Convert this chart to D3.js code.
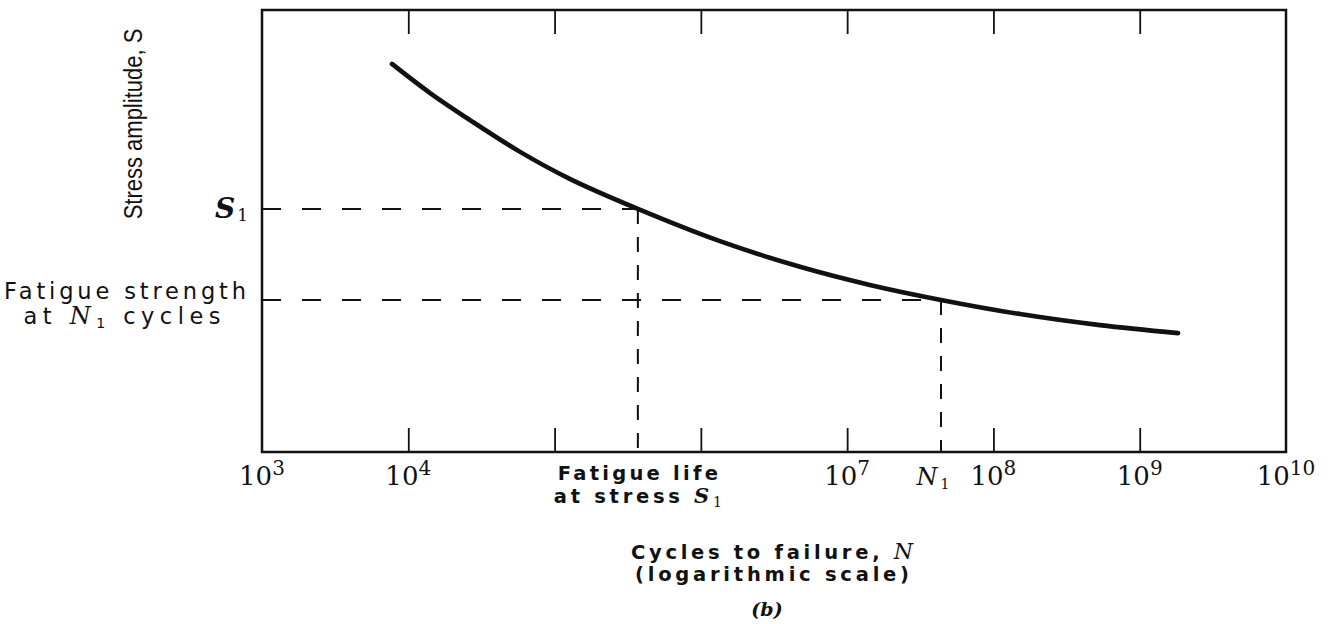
<!DOCTYPE html>
<html>
<head>
<meta charset="utf-8">
<script src="https://cdn.jsdelivr.net/npm/d3@7"></script>
<style>
  html, body { margin: 0; padding: 0; background: #fff; }
  svg { display: block; }
</style>
</head>
<body>
<svg id="chart" width="1335" height="624"></svg>
<script>
// ---- data ----
const tickExponents = [4, 5, 6, 7, 8, 9];          // tick marks (top and bottom)
const labelExponents = [3, 4, 7, 8, 9, 10];        // labelled decades
const curveN = [7.74e3, 1.41e4, 2.64e4, 5.81e4, 1.27e5, 3.71e5, 1.35e6, 4.76e6, 1.43e7, 4.38e7, 1.52e8, 5.35e8, 1.83e9];
const curveS = [87.8, 81.2, 75.1, 67.9, 61.8, 55.0, 47.7, 41.9, 37.8, 34.4, 31.2, 28.7, 26.9];
const fatigueLifeN = 3.71e5;   // N at stress S1
const stressS1 = 55.0;
const cyclesN1 = 4.38e7;       // N1
const fatigueStrengthN1 = 34.4;
const xDomain = [1e3, 1e10];
const yDomain = [0, 100];

// ---- layout ----
const svg = d3.select("#chart");
const pLeft = 262, pRight = 1286, pTop = 10, pBottom = 452;
const ink = "#111";
const sans = "'DejaVu Sans', Verdana, sans-serif";
const serif = "'DejaVu Serif', serif";

const x = d3.scaleLog().domain(xDomain).range([pLeft, pRight]);
const y = d3.scaleLinear().domain(yDomain).range([pBottom, pTop]);

// frame
svg.append("rect")
  .attr("x", pLeft).attr("y", pTop)
  .attr("width", pRight - pLeft).attr("height", pBottom - pTop)
  .attr("fill", "none").attr("stroke", ink).attr("stroke-width", 2.5);

// ticks (top and bottom, inward)
const tickVals = tickExponents.map(e => Math.pow(10, e));
const bottomAxis = d3.axisBottom(x).tickValues(tickVals).tickSizeInner(-24).tickSizeOuter(0).tickFormat("");
const topAxis = d3.axisTop(x).tickValues(tickVals).tickSizeInner(-24).tickSizeOuter(0).tickFormat("");
const gb = svg.append("g").attr("transform", `translate(0,${pBottom})`).call(bottomAxis);
const gt = svg.append("g").attr("transform", `translate(0,${pTop})`).call(topAxis);
[gb, gt].forEach(g => {
  g.select(".domain").remove();
  g.selectAll(".tick line").attr("stroke", ink).attr("stroke-width", 1.8);
});

// tick labels 10^n
const lab = svg.append("g").attr("font-family", serif).attr("fill", ink);
labelExponents.forEach(e => {
  const t = lab.append("text")
    .attr("x", x(Math.pow(10, e)))
    .attr("y", 485)
    .attr("text-anchor", "middle")
    .attr("font-size", 26);
  t.append("tspan").text("10");
  t.append("tspan").attr("dy", -10).attr("font-size", 20).text(String(e));
});

// dashed reference lines
const dashH = "19,21", dashV = "15,13";
const dash = svg.append("g").attr("stroke", ink).attr("stroke-width", 2).attr("fill", "none");
dash.append("line").attr("x1", pLeft).attr("x2", x(fatigueLifeN)).attr("y1", y(stressS1)).attr("y2", y(stressS1)).attr("stroke-dasharray", dashH);
dash.append("line").attr("x1", x(fatigueLifeN)).attr("x2", x(fatigueLifeN)).attr("y1", y(stressS1)).attr("y2", pBottom).attr("stroke-dasharray", dashV);
dash.append("line").attr("x1", pLeft).attr("x2", x(cyclesN1)).attr("y1", y(fatigueStrengthN1)).attr("y2", y(fatigueStrengthN1)).attr("stroke-dasharray", dashH);
dash.append("line").attr("x1", x(cyclesN1)).attr("x2", x(cyclesN1)).attr("y1", y(fatigueStrengthN1)).attr("y2", pBottom).attr("stroke-dasharray", dashV);

// S-N curve
const pts = curveN.map((n, i) => [n, curveS[i]]);
svg.append("path")
  .datum(pts)
  .attr("d", d3.line().x(d => x(d[0])).y(d => y(d[1])).curve(d3.curveCatmullRom.alpha(0.5)))
  .attr("fill", "none").attr("stroke", ink).attr("stroke-width", 4.6).attr("stroke-linecap", "round");

// y-axis title (condensed via horizontal scale along the text direction)
svg.append("text")
  .attr("transform", "translate(142,124) rotate(-90) scale(0.88,1)")
  .attr("text-anchor", "middle")
  .attr("font-family", "'Liberation Sans', Arial, sans-serif")
  .attr("font-size", 25)
  .attr("fill", ink)
  .text("Stress amplitude, S");

// S1 label
const s1 = svg.append("text")
  .attr("x", 248).attr("y", y(stressS1) + 9)
  .attr("text-anchor", "end")
  .attr("font-family", serif)
  .attr("fill", ink);
s1.append("tspan").attr("font-size", 28).attr("font-style", "italic").attr("font-weight", "bold").text("S");
s1.append("tspan").attr("font-size", 17).attr("dy", 3).attr("dx", 2).text("1");

// Fatigue strength label
svg.append("text")
  .attr("x", 125).attr("y", 299)
  .attr("text-anchor", "middle")
  .attr("font-family", sans).attr("font-size", 22.5)
  .attr("textLength", 242).attr("lengthAdjust", "spacing")
  .attr("fill", ink)
  .text("Fatigue strength");
const fs2 = svg.append("text")
  .attr("x", 122).attr("y", 324)
  .attr("text-anchor", "middle")
  .attr("font-family", sans).attr("font-size", 22.5)
  .attr("textLength", 197).attr("lengthAdjust", "spacing")
  .attr("fill", ink);
fs2.append("tspan").text("at ");
fs2.append("tspan").attr("font-family", serif).attr("font-style", "italic").attr("font-size", 24).text("N");
fs2.append("tspan").attr("font-size", 14).attr("dy", 4).text("1");
fs2.append("tspan").attr("dy", -4).text(" cycles");

// Fatigue life label (bottom)
svg.append("text")
  .attr("x", x(fatigueLifeN)).attr("y", 480)
  .attr("text-anchor", "middle")
  .attr("font-family", sans).attr("font-size", 19.5).attr("font-weight", "bold")
  .attr("textLength", 160).attr("lengthAdjust", "spacing")
  .attr("fill", ink)
  .text("Fatigue life");
const fl2 = svg.append("text")
  .attr("x", x(fatigueLifeN)).attr("y", 503)
  .attr("text-anchor", "middle")
  .attr("font-family", sans).attr("font-size", 19.5).attr("font-weight", "bold")
  .attr("textLength", 168).attr("lengthAdjust", "spacing")
  .attr("fill", ink);
fl2.append("tspan").text("at stress ");
fl2.append("tspan").attr("font-family", serif).attr("font-style", "italic").attr("font-size", 21).text("S");
fl2.append("tspan").attr("font-family", serif).attr("font-weight", "normal").attr("font-size", 14).attr("dy", 4).text("1");

// N1 label
const n1 = svg.append("text")
  .attr("x", x(cyclesN1) - 8).attr("y", 485)
  .attr("text-anchor", "middle")
  .attr("font-family", serif)
  .attr("fill", ink);
n1.append("tspan").attr("font-size", 24).attr("font-style", "italic").text("N");
n1.append("tspan").attr("font-size", 14).attr("dy", 4).attr("dx", 3).text("1");

// x-axis title
const xt1 = svg.append("text")
  .attr("x", 772).attr("y", 559)
  .attr("text-anchor", "middle")
  .attr("font-family", sans).attr("font-size", 19.5).attr("font-weight", "bold")
  .attr("textLength", 282).attr("lengthAdjust", "spacing")
  .attr("fill", ink);
xt1.append("tspan").text("Cycles to failure, ");
xt1.append("tspan").attr("font-family", serif).attr("font-style", "italic").attr("font-weight", "normal").attr("font-size", 22).text("N");
svg.append("text")
  .attr("x", 772).attr("y", 581)
  .attr("text-anchor", "middle")
  .attr("font-family", sans).attr("font-size", 19.5).attr("font-weight", "bold")
  .attr("textLength", 274).attr("lengthAdjust", "spacing")
  .attr("fill", ink)
  .text("(logarithmic scale)");

// panel label
svg.append("text")
  .attr("x", 767).attr("y", 616)
  .attr("text-anchor", "middle")
  .attr("font-family", serif).attr("font-size", 19)
  .attr("font-style", "italic").attr("font-weight", "bold")
  .attr("fill", ink)
  .text("(b)");
</script>
</body>
</html>
